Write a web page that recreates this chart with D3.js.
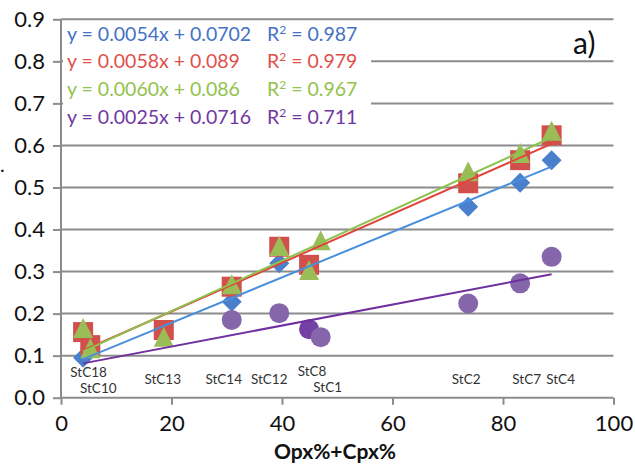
<!DOCTYPE html>
<html>
<head>
<meta charset="utf-8">
<script src="https://cdn.jsdelivr.net/npm/d3@7/dist/d3.min.js"></script>
<style>
  html, body { margin: 0; padding: 0; background: #fff; }
  svg { display: block; }
</style>
</head>
<body>
<svg id="chart" width="635" height="465"></svg>
<script>
// Samples and their Opx%+Cpx% content
const samples = ["StC18", "StC10", "StC13", "StC14", "StC12", "StC8", "StC1", "StC2", "StC7", "StC4"];
const opxCpx  = [4.0, 5.3, 18.6, 30.9, 39.5, 44.9, 47.0, 73.7, 83.1, 88.8];

// Four measured series (null = not measured)
const seriesBlue   = [0.095, 0.120, 0.160, 0.228, 0.320, 0.310, null, 0.454, 0.511, 0.565];
const seriesRed    = [0.156, 0.125, 0.161, 0.264, 0.359, 0.316, null, 0.510, 0.565, 0.624];
const seriesGreen  = [0.161, 0.113, 0.140, 0.265, 0.356, 0.299, 0.370, 0.534, 0.577, 0.630];
const seriesPurple = [null, null, null, 0.185, 0.201, 0.163, 0.144, 0.224, 0.272, 0.335];

// Linear fits for each series
const slopes     = [0.0054, 0.0058, 0.0060, 0.0025];
const intercepts = [0.0702, 0.089, 0.086, 0.0716];
const rSquared   = ["0.987", "0.979", "0.967", "0.711"];

// Axis ticks
const xTicks = [0, 20, 40, 60, 80, 100];
const yTicks = [0, 0.1, 0.2, 0.3, 0.4, 0.5, 0.6, 0.7, 0.8, 0.9];

const svg = d3.select("#chart");
const FONT = "Lato, 'Open Sans', sans-serif";

const x = d3.scaleLinear().domain([0, 100]).range([61, 613.5]);
const y = d3.scaleLinear().domain([0, 0.9]).range([397.7, 19.3]);

const gridColor = "#8c8c8c";

// horizontal gridlines
svg.append("g").selectAll("line").data(yTicks.filter(d => d > 0)).join("line")
  .attr("x1", x(0)).attr("x2", x(100))
  .attr("y1", d => y(d)).attr("y2", d => y(d))
  .attr("stroke", gridColor).attr("stroke-width", 2);

// white panel behind the fit equations
svg.append("rect")
  .attr("x", x(0) + 2).attr("y", y(0.9) + 3)
  .attr("width", 308).attr("height", 112)
  .attr("fill", "#fff");

// axes
const yAxis = svg.append("g").attr("transform", `translate(${x(0)},0)`)
  .call(d3.axisLeft(y).tickValues(yTicks).tickFormat(d3.format(".1f")).tickSize(8).tickPadding(8));
const xAxis = svg.append("g").attr("transform", `translate(0,${y(0)})`)
  .call(d3.axisBottom(x).tickValues(xTicks).tickFormat(d3.format("d")).tickSize(7).tickPadding(11));
[yAxis, xAxis].forEach(g => {
  g.select(".domain").attr("stroke", gridColor).attr("stroke-width", 2);
  g.selectAll(".tick line").attr("stroke", gridColor).attr("stroke-width", 2);
  g.selectAll(".tick text").attr("fill", "#111").style("font-family", FONT).style("font-size", "22px");
});
yAxis.select(".domain").attr("d", `M0,${y(0)}V${y(0.9)}`);
xAxis.select(".domain").attr("d", `M${x(0)},0H${x(100)}`);

// markers
const pts = vals => vals.map((v, i) => ({ x: opxCpx[i], v, s: samples[i] })).filter(d => d.v != null);

const gBlue = svg.append("g");
gBlue.selectAll("path").data(pts(seriesBlue)).join("path")
  .attr("transform", d => `translate(${x(d.x)},${y(d.v)})`)
  .attr("d", "M0,-10L10,0L0,10L-10,0Z")
  .attr("fill", "#4a7fcc");

const gRed = svg.append("g");
gRed.selectAll("rect").data(pts(seriesRed)).join("rect")
  .attr("x", d => x(d.x) - 10).attr("y", d => y(d.v) - 10)
  .attr("width", 20).attr("height", 20)
  .attr("fill", "#d2504c");

const gGreen = svg.append("g");
gGreen.selectAll("path").data(pts(seriesGreen)).join("path")
  .attr("transform", d => `translate(${x(d.x)},${y(d.v)})`)
  .attr("d", "M0,-12L10,8L-10,8Z")
  .attr("fill", "#9bbd58");

const gPurple = svg.append("g");
gPurple.selectAll("circle").data(pts(seriesPurple)).join("circle")
  .attr("cx", d => x(d.x)).attr("cy", d => y(d.v)).attr("r", 10)
  .attr("fill", d => d.s === "StC8" ? "#7440a4" : "#8566aa");

// trend lines over the sampled range
const lineColors = ["#4a8fdc", "#e0443c", "#8cc24e", "#7030a0"];
const xMin = d3.min(opxCpx), xMax = d3.max(opxCpx);
svg.append("g").selectAll("line").data(slopes.map((m, i) => ({ m, b: intercepts[i], c: lineColors[i] }))).join("line")
  .attr("x1", x(xMin)).attr("y1", d => y(d.m * xMin + d.b))
  .attr("x2", x(xMax)).attr("y2", d => y(d.m * xMax + d.b))
  .attr("stroke", d => d.c).attr("stroke-width", 2);

// fit equations
const textColors = ["#4472c4", "#e0504a", "#92c24c", "#7038a0"];
const eqBaselines = [40.7, 68.4, 96.4, 123.5];
const eqG = svg.append("g").style("font-family", FONT).style("font-size", "19.5px");
slopes.forEach((m, i) => {
  eqG.append("text").attr("x", 67).attr("y", eqBaselines[i]).attr("fill", textColors[i])
    .text(`y = ${m.toFixed(4)}x + ${String(intercepts[i])}`);
  const t = eqG.append("text").attr("x", 267).attr("y", eqBaselines[i]).attr("fill", textColors[i]);
  t.append("tspan").text("R");
  t.append("tspan").attr("dy", -7).style("font-size", "12px").text("2");
  t.append("tspan").attr("dy", 7).text(` = ${rSquared[i]}`);
});

// sample names under the points
const labelDx  = [5.5, 8, -1, -8, -10, 3, 7, -2, 6.5, 9];
const labelBase = [377, 393, 384, 384, 384, 376, 392, 384, 384, 384];
svg.append("g").selectAll("text").data(samples).join("text")
  .attr("x", (d, i) => x(opxCpx[i]) + labelDx[i])
  .attr("y", (d, i) => labelBase[i])
  .attr("text-anchor", "middle")
  .style("font-family", FONT).style("font-size", "13.5px").attr("fill", "#333")
  .text(d => d);

// axis title
svg.append("text").attr("x", 335).attr("y", 459).attr("text-anchor", "middle")
  .style("font-family", FONT).style("font-size", "21px").style("font-weight", "bold").attr("fill", "#111")
  .text("Opx%+Cpx%");

// panel tag
svg.append("text").attr("x", 573).attr("y", 54)
  .style("font-family", FONT).style("font-size", "30px").attr("fill", "#111")
  .text("a)");

// edge of the vertical title
svg.append("text").attr("x", 0).attr("y", 172)
  .style("font-family", FONT).style("font-size", "20px").attr("fill", "#111").text(".");
</script>
</body>
</html>
